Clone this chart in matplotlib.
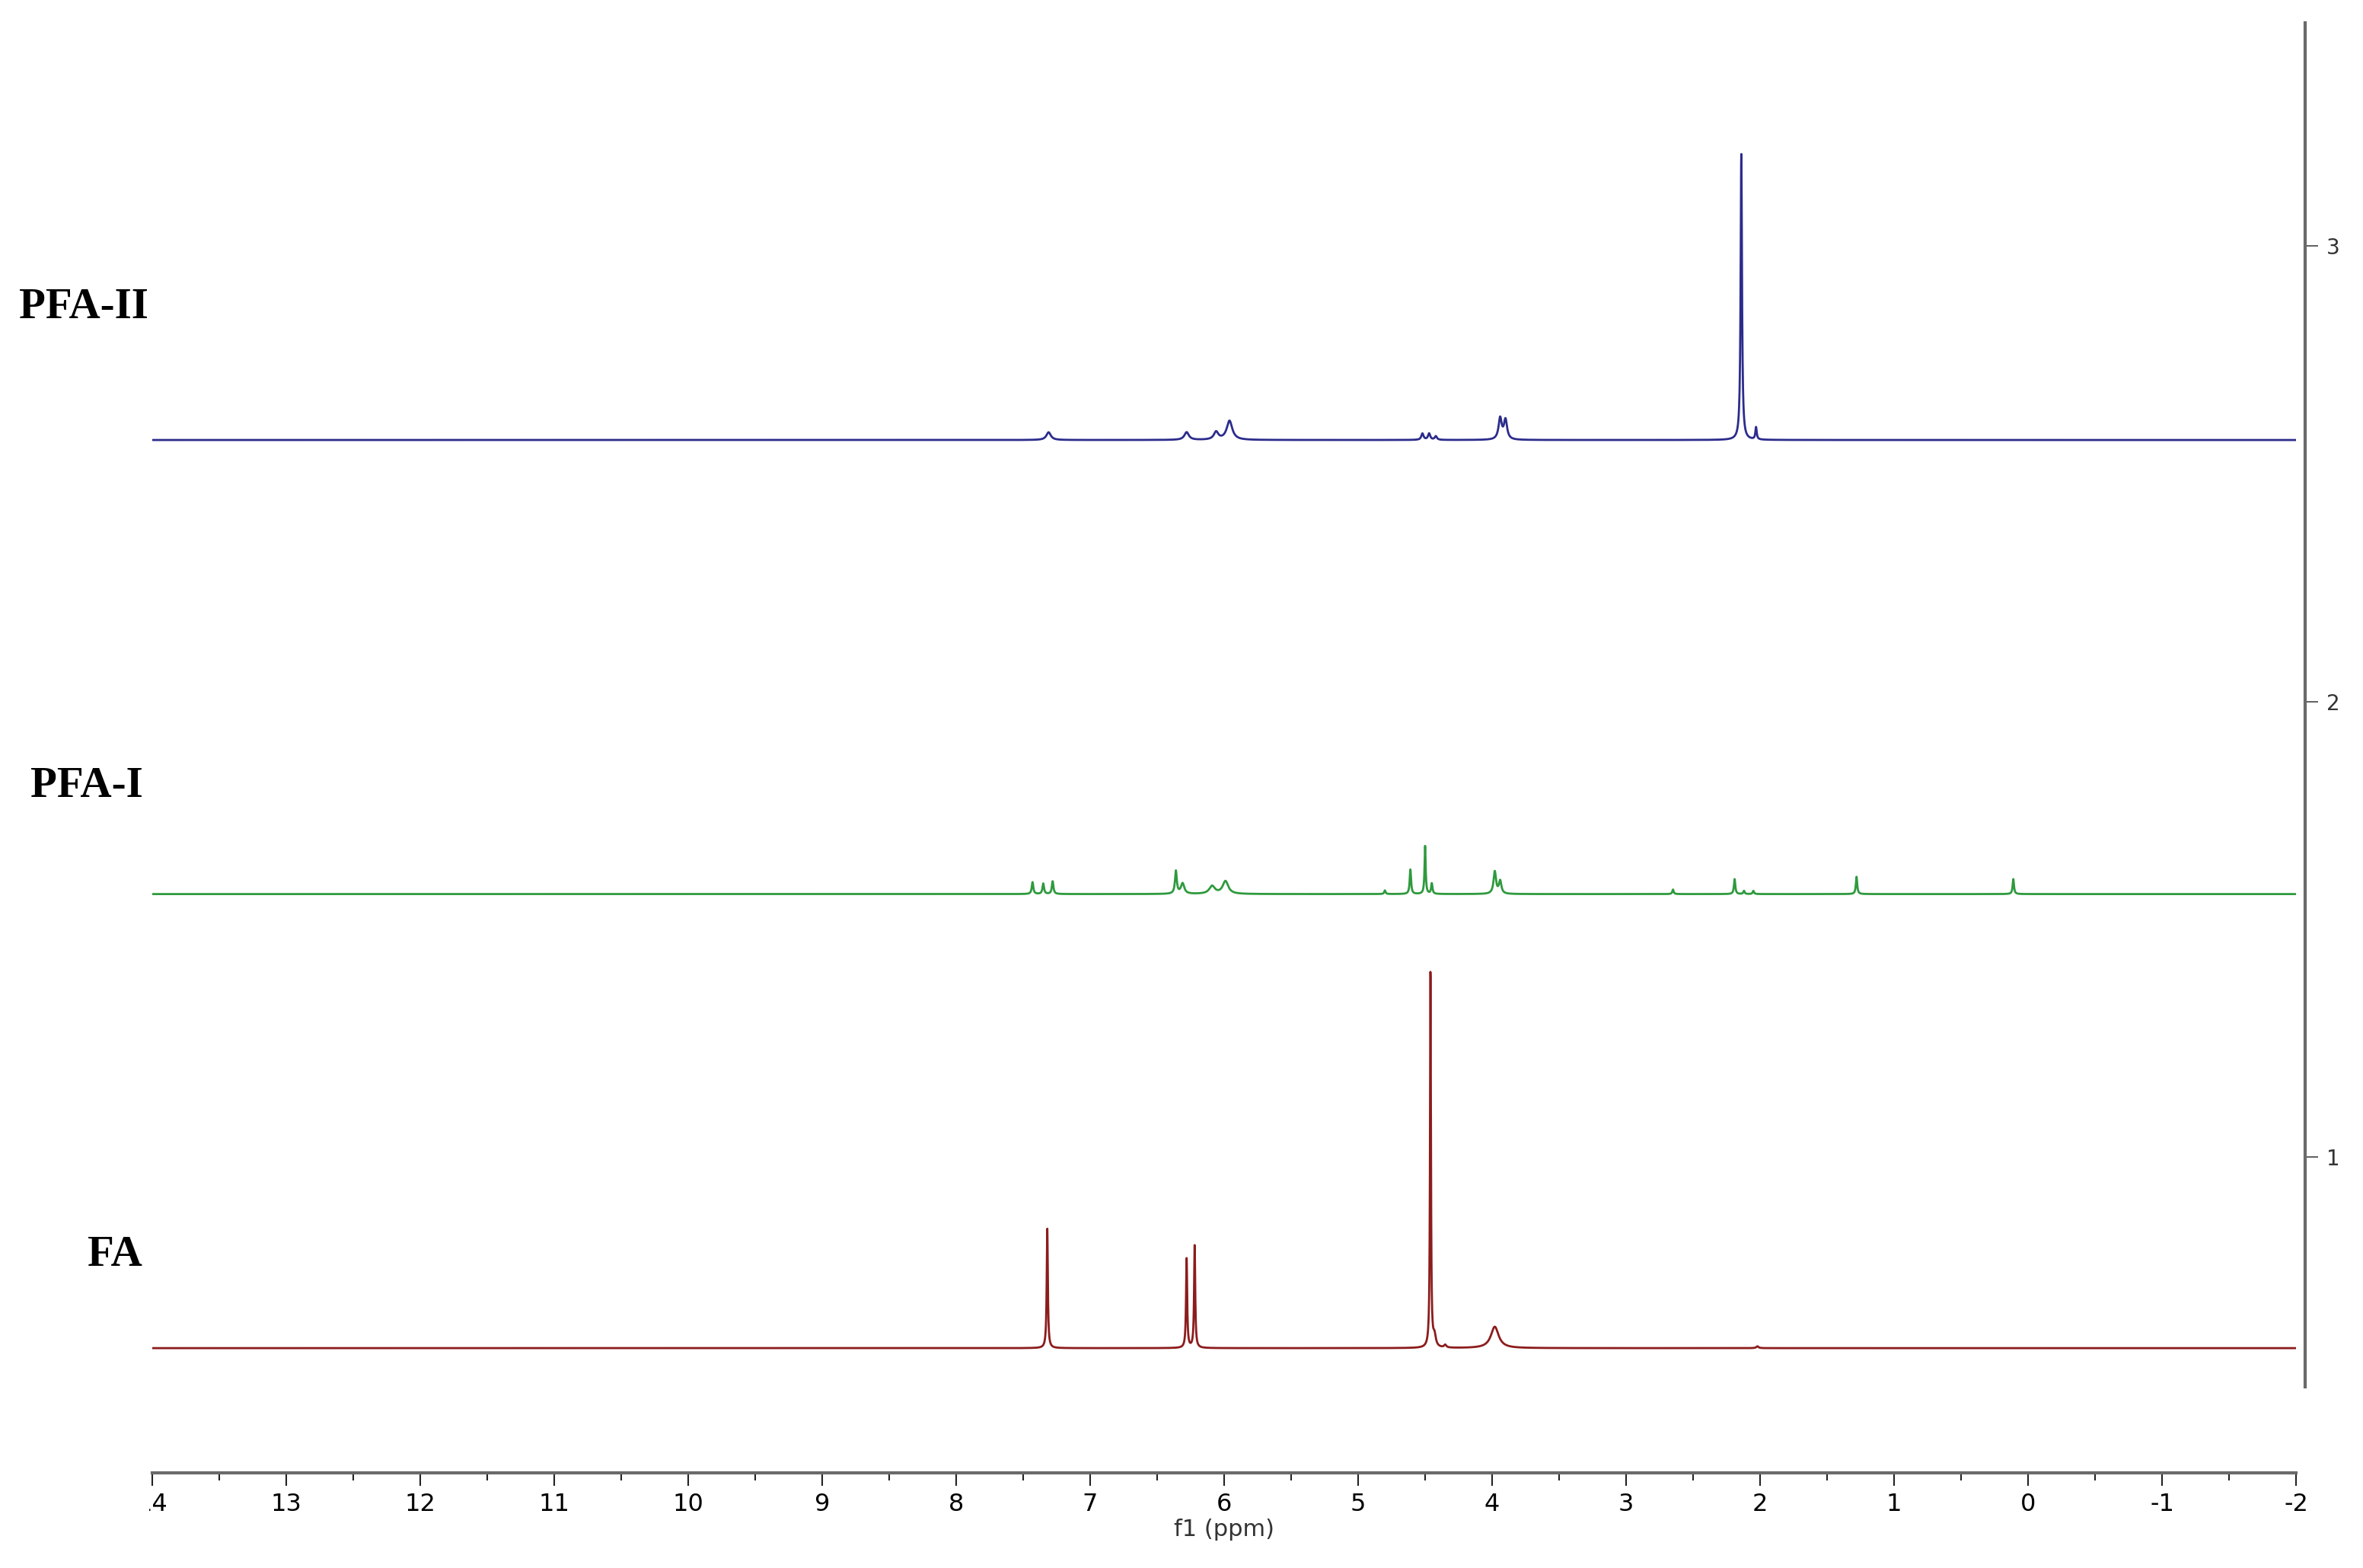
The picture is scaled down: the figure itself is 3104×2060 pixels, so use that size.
import numpy as np
import matplotlib
matplotlib.use('Agg')
import matplotlib.pyplot as plt
from matplotlib import font_manager
from matplotlib.transforms import Bbox, TransformedBbox

plt.rcParams['axes.unicode_minus'] = False

# peak lists (ppm, height above baseline, half width)
fa_ppm = [7.32, 6.28, 6.22, 4.46, 4.43, 4.35, 3.98, 2.02]
fa_height = [0.264, 0.198, 0.227, 0.831, 0.024, 0.006, 0.047, 0.004]
fa_width = [0.005, 0.005, 0.005, 0.004, 0.012, 0.01, 0.035, 0.01]

pfa1_ppm = [7.43, 7.35, 7.28, 6.36, 6.31, 6.09, 5.99, 4.80, 4.61, 4.50, 4.45,
            3.98, 3.94, 2.65, 2.19, 2.12, 2.05, 1.28, 0.11]
pfa1_height = [0.026, 0.023, 0.028, 0.050, 0.023, 0.017, 0.028, 0.008, 0.054,
               0.106, 0.023, 0.049, 0.028, 0.010, 0.033, 0.007, 0.007, 0.038, 0.033]
pfa1_width = [0.007, 0.007, 0.007, 0.008, 0.015, 0.025, 0.025, 0.006, 0.006,
              0.005, 0.006, 0.011, 0.011, 0.006, 0.006, 0.006, 0.006, 0.006, 0.006]

pfa2_ppm = [7.31, 6.28, 6.06, 5.96, 4.52, 4.47, 4.42, 3.94, 3.90, 2.14, 2.03]
pfa2_height = [0.017, 0.017, 0.017, 0.042, 0.014, 0.014, 0.008, 0.047, 0.043, 0.629, 0.027]
pfa2_width = [0.02, 0.02, 0.02, 0.025, 0.01, 0.01, 0.01, 0.014, 0.014, 0.006, 0.006]

names = ['FA', 'PFA-I', 'PFA-II']
offsets = [0.58, 1.577, 2.574]
colors = ['#8c1c1c', '#2f9a3e', '#2c2c8c']
peak_sets = [(fa_ppm, fa_height, fa_width),
             (pfa1_ppm, pfa1_height, pfa1_width),
             (pfa2_ppm, pfa2_height, pfa2_width)]

# narrow sans for the ppm scale if it is there
tick_font = 'DejaVu Sans'
tick_size = 23
for fam in ['Liberation Sans Narrow', 'DejaVu Sans Condensed']:
    try:
        font_manager.findfont(fam, fallback_to_default=False)
        tick_font = fam
        tick_size = 26
        break
    except ValueError:
        pass

W, H = 3104, 2060
fig = plt.figure(figsize=(W / 100, H / 100), dpi=100)
ax = fig.add_axes([200 / W, 1 - 1822 / H, 2816 / W, 1792 / H])

x = np.linspace(14, -2, 16000)
for (pp, hh, ww), off, c in zip(peak_sets, offsets, colors):
    y = np.full_like(x, off)
    for p, h, w in zip(pp, hh, ww):
        y += h / (1 + ((x - p) / w) ** 2)
    ax.plot(x, y, color=c, lw=2)

ax.set_xlim(14, -2)
ax.set_ylim(0.495, 3.49)

ax.spines['top'].set_visible(False)
ax.spines['left'].set_visible(False)
ax.spines['bottom'].set_position(('outward', 81))
ax.spines['right'].set_position(('outward', 8.5))
for s in ['bottom', 'right']:
    ax.spines[s].set_color('#6a6a6a')
    ax.spines[s].set_linewidth(3)

ax.set_xticks(np.arange(14, -2.5, -1))
ax.set_xticks(np.arange(13.5, -2, -1), minor=True)
ax.tick_params(axis='x', which='major', direction='out', length=12, width=1.5,
               color='#222222', pad=7, labelsize=tick_size)
ax.tick_params(axis='x', which='minor', direction='out', length=7, width=1.5,
               color='#222222')
for lab in ax.get_xticklabels():
    lab.set_family(tick_font)

ax.yaxis.tick_right()
ax.set_yticks([1, 2, 3])
ax.tick_params(axis='y', direction='out', length=12, width=1.2, color='#444444',
               pad=8, labelsize=20, labelcolor='#333333')

ax.set_xlabel('f1 (ppm)', fontsize=22, color='#333333', labelpad=2)

# first tick label is cut off at the left edge in the original
t0 = ax.xaxis.get_major_ticks()[0].label1
t0.set_clip_on(True)
t0.set_clip_box(TransformedBbox(Bbox([[196 / W, 0], [1, 1]]), fig.transFigure))

label_pos = [(115, 1649), (40, 1033), (25, 404)]
for name, (px, py) in zip(names, label_pos):
    fig.text(px / W, 1 - py / H, name, fontsize=41, fontweight='bold',
             family='Liberation Serif', ha='left', va='center')

fig.savefig('out.png', dpi=100)
